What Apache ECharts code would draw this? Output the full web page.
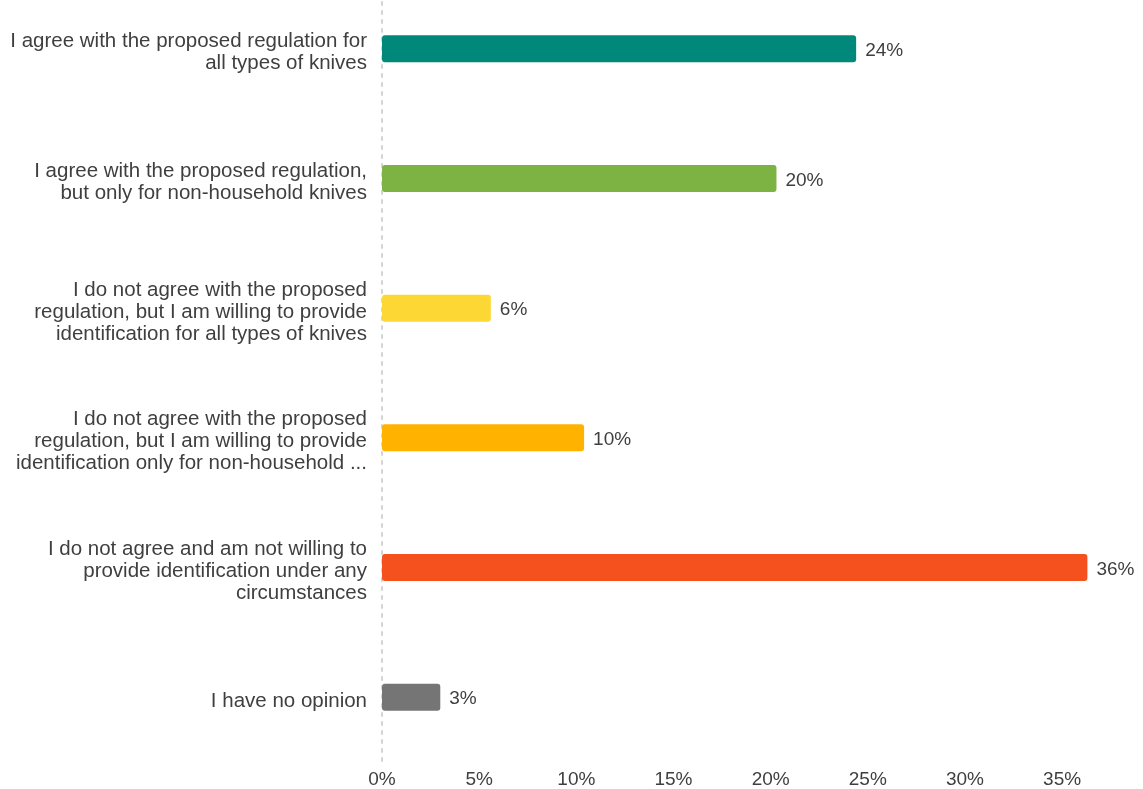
<!DOCTYPE html>
<html>
<head>
<meta charset="utf-8">
<title>Knife identification regulation survey</title>
<script src="https://cdn.jsdelivr.net/npm/echarts@6/dist/echarts.min.js"></script>
<style>
  html, body { margin: 0; padding: 0; background: #ffffff; overflow: hidden; }
  #wrap { position: relative; width: 1143px; height: 789px; overflow: hidden; }
  /* the plot's first category band starts a little above the page edge */
  #chart { position: absolute; left: 0; top: -16px; width: 1143px; height: 805px; }
</style>
</head>
<body>
<div id="wrap"><div id="chart"></div></div>
<script>
// Answer options (top to bottom)
const categories = [
  'I agree with the proposed regulation for\nall types of knives',
  'I agree with the proposed regulation,\nbut only for non-household knives',
  'I do not agree with the proposed\nregulation, but I am willing to provide\nidentification for all types of knives',
  'I do not agree with the proposed\nregulation, but I am willing to provide\nidentification only for non-household ...',
  'I do not agree and am not willing to\nprovide identification under any\ncircumstances',
  'I have no opinion'
];

// Share of respondents, percent
const shares = [24.4, 20.3, 5.6, 10.4, 36.3, 3.0];

// One colour per answer option
const barColors = ['#00897B', '#7CB342', '#FDD835', '#FFB300', '#F4511E', '#757575'];

// Axis ticks
const tickStep = 5;
const axisMax = 37;

const FONT = "'Liberation Sans', Arial, sans-serif";
const TEXT = '#3f3f3f';

const chart = echarts.init(document.getElementById('chart'), null, { renderer: 'canvas' });

chart.setOption({
  animation: false,
  backgroundColor: '#ffffff',
  textStyle: { fontFamily: FONT },
  grid: { left: 382, right: 42, top: 0, bottom: 27, containLabel: false },
  xAxis: {
    type: 'value',
    min: 0,
    max: axisMax,
    interval: tickStep,
    axisLine: { show: false },
    axisTick: { show: false },
    splitLine: { show: false },
    axisLabel: {
      color: TEXT,
      fontSize: 19,
      fontFamily: FONT,
      margin: 8,
      formatter: v => (v % tickStep === 0 ? v + '%' : '')
    }
  },
  yAxis: {
    type: 'category',
    inverse: true,
    data: categories,
    axisTick: { show: false },
    axisLine: {
      show: true,
      lineStyle: { color: '#d4d4d4', width: 2, type: [3, 6] }
    },
    axisLabel: {
      color: TEXT,
      fontSize: 20.5,
      fontFamily: FONT,
      margin: 15,
      align: 'right',
      // a short spacer line on top nudges each wrapped label slightly below the bar centre
      formatter: v => '{gap| }\n' + v.split('\n').map(line => '{t|' + line + '}').join('\n'),
      rich: {
        gap: { fontSize: 4, lineHeight: 8 },
        t: { fontSize: 20.5, lineHeight: 22, color: TEXT, fontFamily: FONT }
      }
    }
  },
  series: [{
    type: 'bar',
    data: shares.map((v, i) => ({ value: v, itemStyle: { color: barColors[i] } })),
    barWidth: 27,
    itemStyle: { borderRadius: 3 },
    label: {
      show: true,
      position: 'right',
      distance: 9,
      offset: [0, 2],
      color: TEXT,
      fontSize: 19,
      fontFamily: FONT,
      formatter: p => Math.round(p.value) + '%'
    }
  }]
});
</script>
</body>
</html>
